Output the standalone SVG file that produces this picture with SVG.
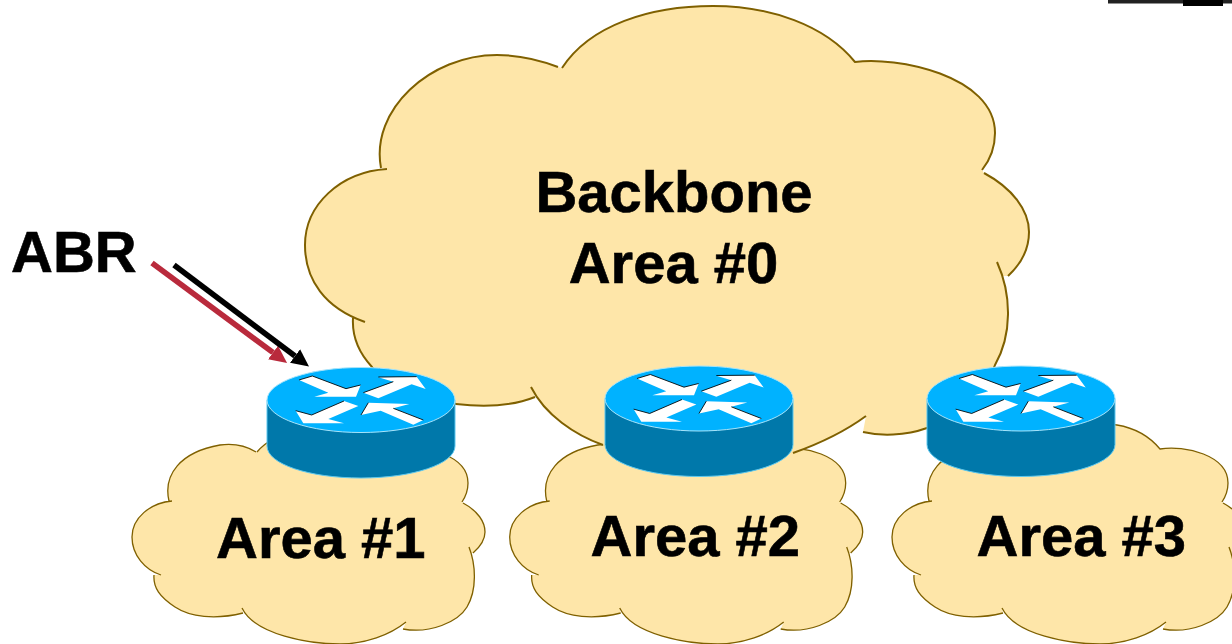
<svg xmlns="http://www.w3.org/2000/svg" xmlns:xlink="http://www.w3.org/1999/xlink" width="1232" height="644" viewBox="0 0 1232 644">
<style>
.fill{fill:#FEE6A9;stroke:none}
.edge{fill:none;stroke:#7F6000;stroke-linecap:butt}
.lbl{font-family:"Liberation Sans",Arial,sans-serif;font-weight:700;fill:#000;font-size:58px;stroke:#000;stroke-width:.6}
.body{fill:#0078AA;stroke:#5CC8F0;stroke-width:1}
.top{fill:#00B2FF;stroke:#A8E4FA;stroke-width:1}
.arw{fill:#fff;stroke:none}
.shd{fill:none;stroke:#000;stroke-width:2.6}
</style>
<defs>
<marker id="headRed" markerUnits="userSpaceOnUse" markerWidth="18" markerHeight="18" refX="0" refY="9" orient="auto"><path d="M0,0.5 L17.5,9 L0,17.5 Z" fill="#B92A3C"/></marker>
<marker id="headBlack" markerUnits="userSpaceOnUse" markerWidth="18" markerHeight="18" refX="0" refY="9" orient="auto"><path d="M0,0.5 L17.5,9 L0,17.5 Z" fill="#000"/></marker>
<g id="smallCloud">
<path class="fill" d="M169,501 C163,475 180,452 220,445 C235,443 248,447 256,452 L257,452 C275,430 325,420 357,425 C375,428 390,437 400,449 C425,445 468,455 468,483 C468,490 466,496 462,502 L463,503 C478,511 485,522 485,532 C485,540 480,547 473,553 L471,553 C476,570 477,590 467,607 C458,622 430,634 403,629 L406,622 C390,635 365,644 340,644 C310,644 255,635 242,608 L243,613 C215,620 190,617 175,607 C160,597 153,588 154,575 L161,575 C145,570 132,555 132,537 C132,518 150,503 172,501 Z"/>
<path class="edge" stroke-width="1.3" d="M169,501 C163,475 180,452 220,445 C235,443 248,447 256,452 M257,452 C275,430 325,420 357,425 C375,428 390,437 400,449 C425,445 468,455 468,483 C468,490 466,496 462,502 M463,503 C478,511 485,522 485,532 C485,540 480,547 473,553 M469,547 C476,565 477,590 467,607 C458,622 430,634 403,629 M406,622 C390,635 365,644 340,644 C310,644 255,635 242,608 M243,613 C215,620 190,617 175,607 C160,597 153,588 154,575 M161,575 C145,570 132,555 132,537 C132,518 150,503 172,501"/>
</g>
<g id="router">
<path class="body" d="M267,400 L267,446 C267,464 309,478 361,478 C413,478 455,464 455,446 L455,400 Z"/>
<ellipse class="top" cx="361" cy="400" rx="94" ry="32.5"/>
<g transform="translate(250 350) scale(.33333)">
<path class="arw" d="M147,90 L187,78 L288,116 L332,105 L318,140 L193,140 L235,128 Z"/>
<path class="shd" d="M147,90 L187,78 L288,116 L332,105"/>
<path class="arw" d="M340,128 L430,95 L385,82 L500,80 L527,117 L485,103 L385,145 Z"/>
<path class="shd" d="M340,128 L430,95 M385,81 L500,80"/>
<path class="arw" d="M325,168 L282,153 L185,195 L137,182 L160,220 L282,220 L235,207 Z"/>
<path class="shd" d="M137,182 L185,195 L282,153"/>
<path class="arw" d="M333,195 L355,158 L478,162 L430,175 L520,210 L490,224 L392,182 Z"/>
<path class="shd" d="M333,195 L355,158 M430,175 L520,210"/>
</g>
</g>
</defs>
<rect width="1232" height="644" fill="#fff"/>
<g id="artifact">
<rect x="1108" y="0" width="124" height="3.5" fill="#222"/>
<rect x="1183" y="0" width="40" height="6" fill="#000"/>
</g>
<g id="area1"><use href="#smallCloud"/><text class="lbl" x="216" y="558">Area #1</text></g>
<g id="area2"><use href="#smallCloud" x="377.7"/><text class="lbl" x="590.5" y="556">Area #2</text></g>
<g id="area3"><use href="#smallCloud" x="760"/><text class="lbl" x="976.5" y="556">Area #3</text></g>
<g id="backbone">
<path class="fill" d="M381,168 C370,110 430,55 497,55 C520,55 540,60 558,67 L562,68 C590,25 650,6 713,6 C770,6 825,25 855,62 C895,56 995,75 995,133 C995,148 990,160 982,170 L984,173 C1012,188 1029,210 1029,232 C1029,250 1020,265 1008,276 L1003,276 C1012,310 1010,340 995,365 C985,395 960,420 927,428 C905,436 880,436 863,432 L866,416 C840,435 810,447 793,453 L700,480 L603,445 C575,435 545,415 531,387 L535,397 C515,405 490,408 456,404 C420,400 390,390 372,367 C358,352 352,335 353,318 L365,322 C325,308 305,280 305,245 C305,205 340,172 387,169 Z"/>
<path class="edge" stroke-width="2" d="M381,168 C370,110 430,55 497,55 C520,55 540,60 558,67 M562,68 C590,25 650,6 713,6 C770,6 825,25 855,62 C895,56 995,75 995,133 C995,148 990,160 982,170 M984,173 C1012,188 1029,210 1029,232 C1029,250 1020,265 1008,276 M997,262 C1012,295 1012,335 995,365 C985,395 960,420 927,428 C905,436 880,436 863,432 M866,416 C840,435 810,447 793,453 M603,445 C575,435 545,415 531,387 M535,397 C515,405 490,408 456,404 C420,400 390,390 372,367 C358,352 352,335 353,318 M365,322 C325,308 305,280 305,245 C305,205 340,172 387,169"/>
<text class="lbl" x="674" y="212" text-anchor="middle">Backbone</text>
<text class="lbl" x="673.5" y="283" text-anchor="middle">Area #0</text>
</g>
<g id="router1"><use href="#router"/></g>
<g id="router2"><use href="#router" x="338" y="-1.5"/></g>
<g id="router3"><use href="#router" x="660" y="-1.5"/></g>
<g id="abr"><text class="lbl" x="11" y="272">ABR</text></g>
<g id="connectors">
<line x1="152" y1="263" x2="273" y2="352.5" stroke="#B92A3C" stroke-width="5.6" marker-end="url(#headRed)"/>
<line x1="174" y1="265" x2="295" y2="356" stroke="#000" stroke-width="5.6" marker-end="url(#headBlack)"/>
</g>
</svg>
